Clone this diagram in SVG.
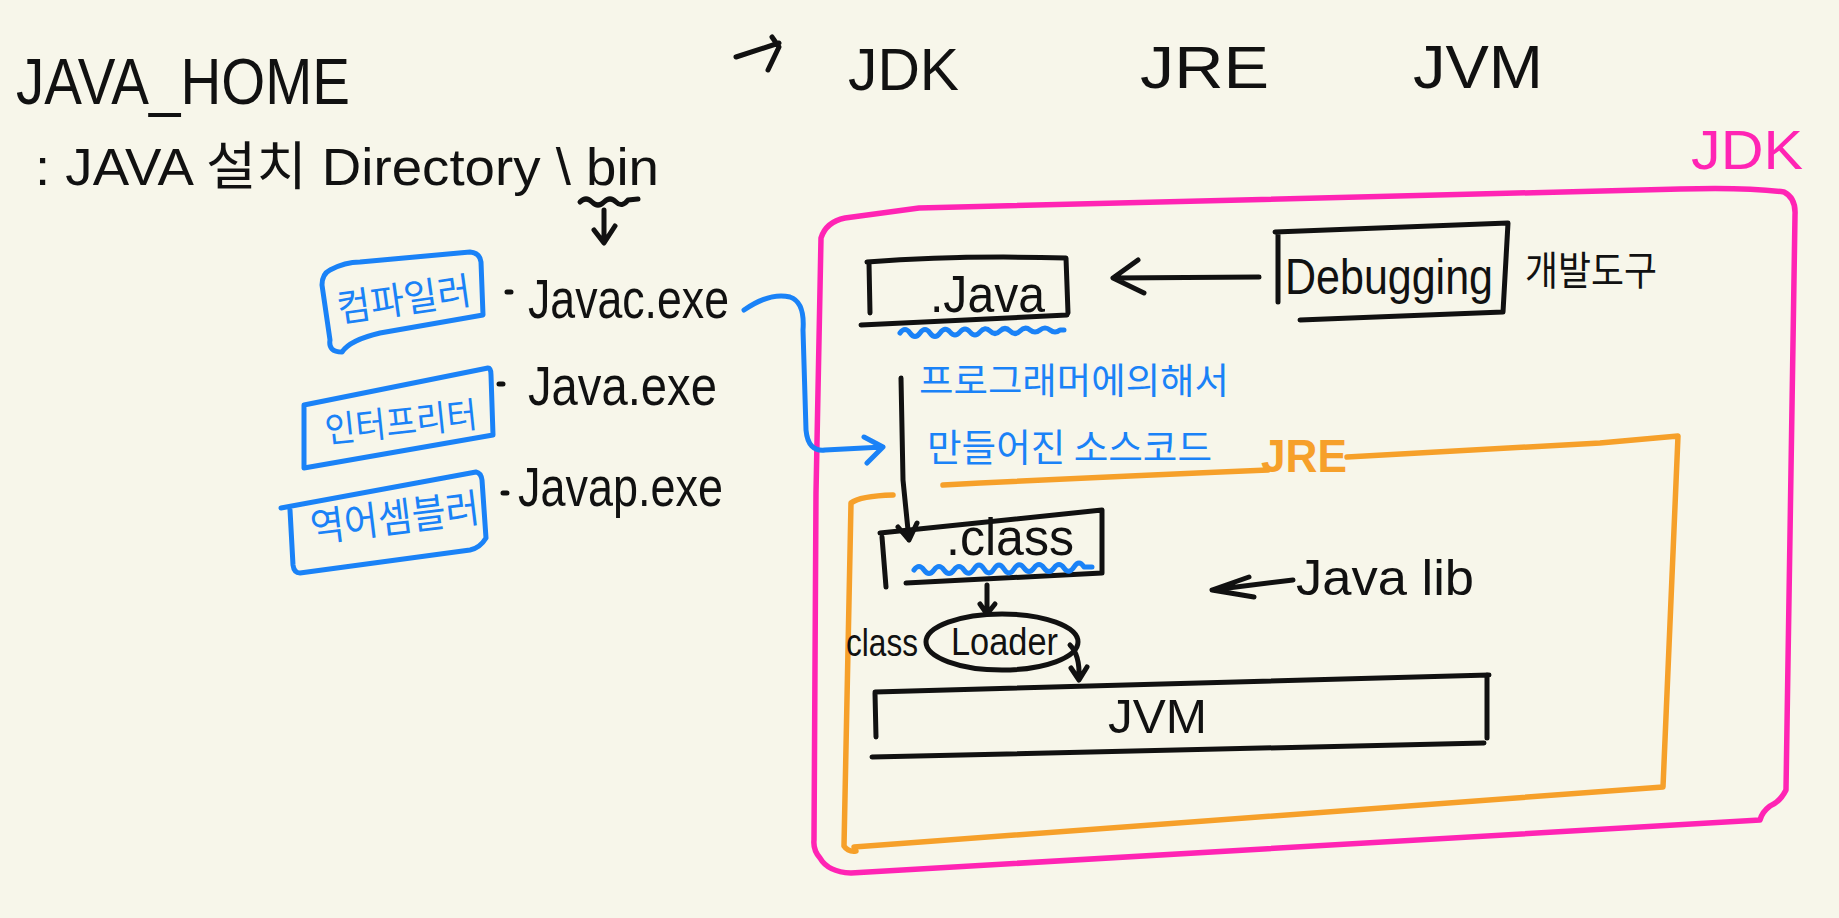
<svg xmlns="http://www.w3.org/2000/svg" width="1839" height="918" viewBox="0 0 1839 918">
<defs>
<style>
.bk{fill:none;stroke:#111;stroke-width:5;stroke-linecap:round;stroke-linejoin:round}
.bl{fill:none;stroke:#1a82f7;stroke-width:5;stroke-linecap:round;stroke-linejoin:round}
.pk{fill:none;stroke:#ff24b4;stroke-width:5.5;stroke-linecap:round;stroke-linejoin:round}
.or{fill:none;stroke:#f6a02a;stroke-width:5.5;stroke-linecap:round;stroke-linejoin:round}
.t{font-family:"Liberation Sans","Noto Sans CJK KR",sans-serif;fill:#111}
.k{font-family:"Noto Sans CJK KR","Liberation Sans",sans-serif}
.kb{font-family:"Noto Sans CJK KR","Liberation Sans",sans-serif;fill:#1a82f7}
</style>
</defs>
<rect x="0" y="0" width="1839" height="918" fill="#f7f6ea"/>

<g id="title">
<text class="t" x="16" y="104" font-size="64" textLength="334" lengthAdjust="spacingAndGlyphs">JAVA_HOME</text>
<text class="t" x="35" y="185" font-size="52" textLength="624" lengthAdjust="spacingAndGlyphs">: JAVA 설치 Directory \ bin</text>
</g>

<g id="header">
<text class="t" x="848" y="90" font-size="60" textLength="111" lengthAdjust="spacingAndGlyphs">JDK</text>
<text class="t" x="1140" y="88" font-size="60" textLength="129" lengthAdjust="spacingAndGlyphs">JRE</text>
<text class="t" x="1413" y="88" font-size="62" textLength="130" lengthAdjust="spacingAndGlyphs">JVM</text>
</g>

<g id="jdk-box">
<path class="pk" d="M821,238 Q826,222 845,218 L919,208 L1680,189 Q1745,187 1784,192 Q1796,198 1795,215 L1786,790 Q1780,802 1770,806 Q1762,812 1760,820 L851,873 Q828,872 820,858 Q813,850 814,840 L816,493 Z"/>
<text x="1691" y="169" font-size="56" textLength="112" lengthAdjust="spacingAndGlyphs" style="font-family:'Liberation Sans',sans-serif;fill:#ff24b4">JDK</text>
</g>

<g id="jre-box">
<path class="or" d="M943,485 Q1100,477 1268,470"/>
<path class="or" d="M1347,457 L1600,443 L1678,436 L1663,787 L854,847"/>
<path class="or" d="M893,495 Q860,496 851,503 L844,846 Q848,852 856,851"/>
<text x="1261" y="472" font-size="46" font-weight="bold" textLength="86" lengthAdjust="spacingAndGlyphs" style="font-family:'Liberation Sans',sans-serif;fill:#f6a02a">JRE</text>
</g>

<g id="compiler">
<path class="bl" d="M330,270 Q345,262 360,262 L470,252 Q480,253 481,262 L483,315 L380,333 Q350,340 342,352 Q328,352 330,340 L322,285 Q322,274 330,270 Z"/>
<text class="kb" x="404" y="313" font-size="38" text-anchor="middle" textLength="135" lengthAdjust="spacingAndGlyphs" transform="rotate(-8 404 300)">컴파일러</text>
</g>

<g id="interpreter">
<path class="bl" d="M304,405 L488,368 Q491,368 491,375 L493,435 L304,468 Z"/>
<text class="kb" x="401" y="435" font-size="36" text-anchor="middle" textLength="153" lengthAdjust="spacingAndGlyphs" transform="rotate(-6 401 422)">인터프리터</text>
</g>

<g id="disassembler">
<path class="bl" d="M281,508 L476,472 Q481,473 482,480 L486,538 Q480,548 470,550 L300,573 Q294,573 293,565 L290,510"/>
<text class="kb" x="395" y="532" font-size="40" text-anchor="middle" textLength="170" lengthAdjust="spacingAndGlyphs" transform="rotate(-7 395 518)">역어셈블러</text>
</g>

<g id="exe-labels">
<path class="bk" d="M507,292 L511,292 M499,384 L503,384 M503,493 L507,493"/>
<text class="t" x="528" y="318" font-size="56" textLength="201" lengthAdjust="spacingAndGlyphs">Javac.exe</text>
<text class="t" x="528" y="405" font-size="56" textLength="189" lengthAdjust="spacingAndGlyphs">Java.exe</text>
<text class="t" x="518" y="506" font-size="56" textLength="205" lengthAdjust="spacingAndGlyphs">Javap.exe</text>
</g>

<g id="java-file">
<path class="bk" d="M869,263 L870,313 M867,262 Q960,255 1066,258 L1068,313 M861,325 L1067,315"/>
<text class="t" x="930" y="312" font-size="52" textLength="115" lengthAdjust="spacingAndGlyphs">.Java</text>
<path class="bl" d="M900,333 q5,-7 10,0 t10,0 t10,0 t10,0 t10,-1 t10,0 t10,0 t10,0 t10,-1 t10,0 t10,0 t10,0 t10,-1 t10,0 t10,0 t10,0 l4,0"/>
</g>

<g id="debugging">
<path class="bk" d="M1278,233 L1278,302 M1275,232 L1508,223 L1503,312 M1300,320 L1503,312"/>
<text class="t" x="1285" y="294" font-size="50" textLength="208" lengthAdjust="spacingAndGlyphs">Debugging</text>
</g>
<g id="dev-tool">
<text class="t k" x="1525" y="285" font-size="40" textLength="132" lengthAdjust="spacingAndGlyphs">개발도구</text>
</g>

<g id="source-note">
<text class="kb" x="919" y="394" font-size="36" textLength="310" lengthAdjust="spacingAndGlyphs">프로그래머에의해서</text>
<text class="kb" x="927" y="461" font-size="38" textLength="285" lengthAdjust="spacingAndGlyphs">만들어진 소스코드</text>
</g>

<g id="class-file">
<path class="bk" d="M880,533 L1102,510 L1102,573 M882,537 L886,587 M906,583 L1102,573"/>
<text class="t" x="946" y="555" font-size="52" textLength="128" lengthAdjust="spacingAndGlyphs">.class</text>
<path class="bl" d="M914,570 q5,-7 10,0 t10,0 t10,0 t10,0 t10,0 t10,-1 t10,0 t10,0 t10,0 t10,0 t10,-1 t10,0 t10,0 t10,0 t10,0 t10,-1 t10,0 l8,0"/>
</g>

<g id="class-loader">
<text class="t" x="846" y="656" font-size="38" textLength="72" lengthAdjust="spacingAndGlyphs">class</text>
<ellipse class="bk" cx="1002" cy="642" rx="76" ry="28"/>
<text class="t" x="951" y="655" font-size="38" textLength="107" lengthAdjust="spacingAndGlyphs">Loader</text>
</g>

<g id="jvm">
<path class="bk" d="M875,692 L1489,675 M1487,675 L1487,738 M872,757 L1484,743 M875,693 L876,737"/>
<text class="t" x="1108" y="733" font-size="48" textLength="99" lengthAdjust="spacingAndGlyphs">JVM</text>
</g>

<g id="java-lib">
<text class="t" x="1296" y="595" font-size="50" textLength="178" lengthAdjust="spacingAndGlyphs">Java lib</text>
</g>

<g id="connectors">
<path class="bk" d="M736,57 L779,43 M772,37 L779,47 L768,70"/>
<path class="bk" d="M580,202 q6,-6 12,0 t12,0 t12,0 t12,-2 l10,-1"/>
<path class="bk" d="M604,210 L604,242 M594,230 L604,243 L615,226"/>
<path class="bl" d="M744,310 Q770,292 790,297 Q805,302 803,330 L806,430 Q808,452 825,450 L883,447 M864,437 L883,447 L867,463"/>
<path class="bk" d="M1259,277 L1113,278 M1138,260 L1113,278 L1144,293"/>
<path class="bk" d="M901,378 L903,480 L909,540 M898,527 L909,540 L917,523"/>
<path class="bk" d="M987,585 L987,612 M980,604 L987,614 L995,604"/>
<path class="bk" d="M1070,645 Q1080,655 1079,678 M1071,668 L1079,680 L1087,667"/>
<path class="bk" d="M1293,580 L1212,590 M1249,577 L1212,590 L1254,597"/>
</g>
</svg>
